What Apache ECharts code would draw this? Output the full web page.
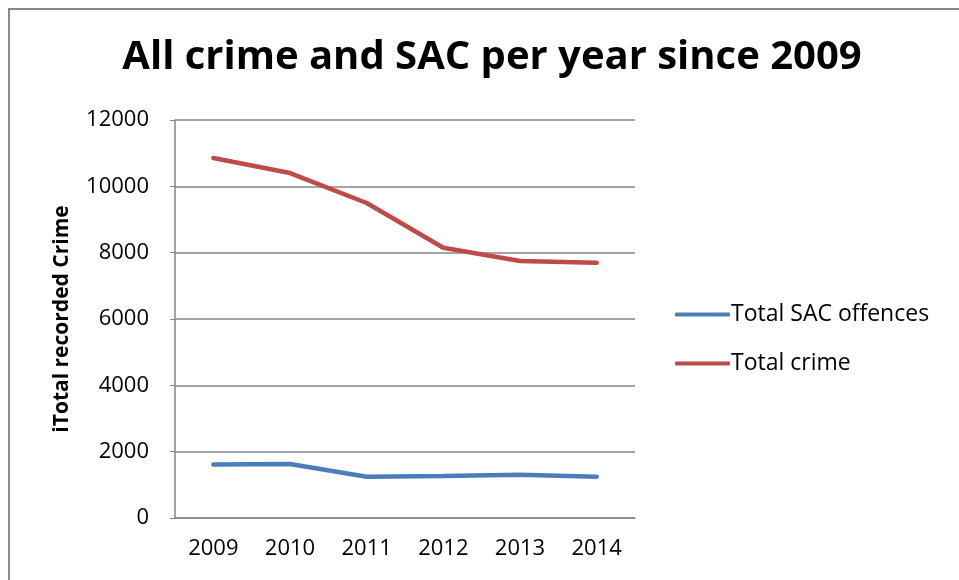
<!DOCTYPE html>
<html>
<head>
<meta charset="utf-8">
<script src="https://cdn.jsdelivr.net/npm/echarts@6/dist/echarts.min.js"></script>
<style>
  html, body { margin: 0; padding: 0; background: #fff; }
  #chart { width: 959px; height: 580px; }
</style>
</head>
<body>
<div id="chart"></div>
<script>
  var years = ['2009', '2010', '2011', '2012', '2013', '2014'];
  var sacOffences = [1610, 1628, 1246, 1266, 1305, 1246];
  var totalCrime = [10855, 10400, 9497, 8150, 7747, 7698];
  var yTicks = { min: 0, max: 12000, step: 2000 };

  var font = '"Open Sans", "Liberation Sans", sans-serif';

  var chart = echarts.init(document.getElementById('chart'));
  chart.setOption({
    animation: false,
    backgroundColor: '#fff',
    title: {
      text: 'All crime and SAC per year since 2009',
      left: 487,
      textAlign: 'center',
      top: 33,
      textStyle: { fontFamily: font, fontWeight: 'bold', fontSize: 40, color: '#000' }
    },
    // outer chart frame
    graphic: [{
      type: 'rect',
      shape: { x: 9, y: 9, width: 980, height: 600 },
      style: { fill: 'none', stroke: '#898989', lineWidth: 2 },
      silent: true
    }],
    legend: {
      orient: 'vertical',
      left: 670,
      top: 298,
      itemWidth: 55,
      itemHeight: 4,
      itemGap: 26,
      icon: 'roundRect',
      textStyle: { fontFamily: font, fontSize: 23, color: '#000', padding: [0, 0, 0, -4] },
      data: ['Total SAC offences', 'Total crime']
    },
    grid: { left: 175, right: 324, top: 120, bottom: 62 },
    xAxis: {
      type: 'category',
      data: years,
      boundaryGap: true,
      axisLine: { lineStyle: { color: '#868686', width: 1.5 } },
      axisTick: { show: false },
      axisLabel: { fontFamily: font, fontSize: 22, color: '#000', margin: 20 }
    },
    yAxis: {
      type: 'value',
      min: yTicks.min,
      max: yTicks.max,
      interval: yTicks.step,
      name: 'iTotal recorded Crime',
      nameLocation: 'middle',
      nameGap: 102,
      nameTextStyle: { fontFamily: font, fontSize: 21, fontWeight: 'bold', color: '#000' },
      axisLine: { show: true, lineStyle: { color: '#868686', width: 1.5 } },
      axisTick: { show: true, length: 5, lineStyle: { color: '#868686' } },
      axisLabel: { fontFamily: font, fontSize: 22, color: '#000', margin: 26, formatter: function (v) { return String(v); } },
      splitLine: { lineStyle: { color: '#868686', width: 1.5 } }
    },
    series: [{
      name: 'Total SAC offences',
      type: 'line',
      data: sacOffences,
      symbol: 'none',
      color: '#4A7EBB',
      lineStyle: { width: 4.5, color: '#4A7EBB', cap: 'round' }
    }, {
      name: 'Total crime',
      type: 'line',
      data: totalCrime,
      symbol: 'none',
      color: '#BE4B48',
      lineStyle: { width: 4.5, color: '#BE4B48', cap: 'round' }
    }]
  });
</script>
</body>
</html>
